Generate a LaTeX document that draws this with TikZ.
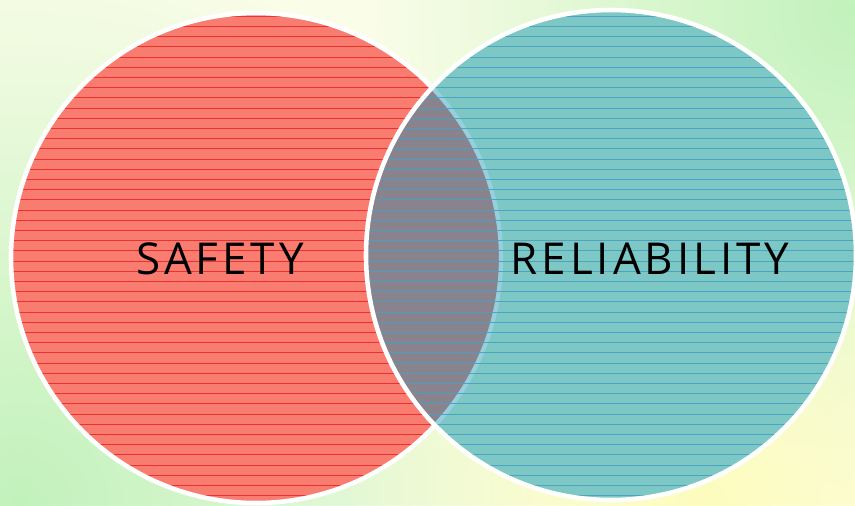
\documentclass[tikz,border=0pt]{standalone}
\usepackage{fontspec}
\newfontfamily\vennfont{Open Sans}[LetterSpace=9]
\usetikzlibrary{positioning, fadings}

\definecolor{bgpale}{RGB}{250,253,232}
\definecolor{bggreen}{RGB}{194,242,188}
\definecolor{bgyellow}{RGB}{254,252,190}
\definecolor{safetyred}{RGB}{248,124,112}
\definecolor{safetyline}{RGB}{236,36,36}
\definecolor{reliteal}{RGB}{125,200,196}
\definecolor{reliline}{RGB}{70,160,198}
\definecolor{overlapgray}{RGB}{136,131,140}
\definecolor{seamblue}{RGB}{150,208,222}

\tikzfading[name=softspot, inner color=transparent!0, outer color=transparent!100]

\tikzset{
  setlabel/.style={font=\vennfont\fontsize{25}{29}\selectfont, text=black, inner sep=0pt},
  safetyhatch/.style={draw=safetyline, line width=0.5pt, opacity=0.85},
  relihatch/.style={draw=reliline, line width=0.5pt, opacity=0.9},
  rim/.style={draw=white, line width=2.6pt},
}

\begin{document}
\begin{tikzpicture}[x=0.02cm, y=-0.02cm]
  \useasboundingbox (0,0) rectangle (855,505);
  % background
  \fill[bgpale] (0,0) rectangle (855,505);
  \begin{scope}
    \clip (0,0) rectangle (855,505);
    \fill[bggreen, path fading=softspot] (20,505) circle[radius=560];
    \fill[bggreen, path fading=softspot] (855,10) circle[radius=480];
    \fill[bgyellow, path fading=softspot] (700,505) circle[radius=360];
  \end{scope}

  \coordinate (safeC) at (256,258);
  \coordinate (reliC) at (611,255);

  % safety set
  \fill[safetyred] (safeC) circle[radius=245];
  \begin{scope}
    \clip (safeC) circle[radius=245];
    \foreach \y in {6,16.2,...,505}
      \draw[safetyhatch] (0,\y) -- (855,\y);
  \end{scope}
  \draw[rim] (safeC) circle[radius=245];

  % reliability set
  \fill[reliteal] (reliC) circle[radius=245];
  \begin{scope}
    \clip (reliC) circle[radius=245];
    \fill[overlapgray] (safeC) circle[radius=245];
    \draw[seamblue, line width=2.4pt] (safeC) circle[radius=245];
    \foreach \y in {6,16.2,...,505}
      \draw[relihatch] (0,\y) -- (855,\y);
  \end{scope}
  \draw[rim] (reliC) circle[radius=245];

  % labels
  \node[setlabel] (safety) at (220,259) {SAFETY};
  \node[setlabel] (reliability) at (650,259) {RELIABILITY};
\end{tikzpicture}
\end{document}
